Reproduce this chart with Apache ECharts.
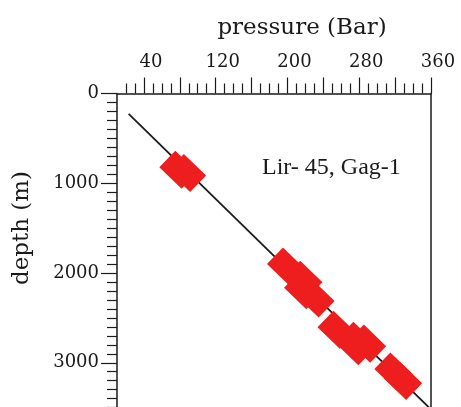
<!DOCTYPE html>
<html>
<head>
<meta charset="utf-8">
<script src="https://cdn.jsdelivr.net/npm/echarts@6/dist/echarts.min.js"></script>
<style>
    html, body { margin: 0; padding: 0; background: #fff; }
    #chart { width: 461px; height: 407px; }
</style>
</head>
<body>
<div id="chart"></div>
<script>
// pressure-depth plot, Lir-45 / Gag-1

// measured points (pressure in bar, depth in m)
var pressureBar = [78.5, 88, 198.5, 217.7, 217.5, 231.2, 254.8, 277, 275.5, 288.7, 318.2, 328.8];
var depthM = [850, 886, 1928, 2076, 2191, 2285, 2633, 2755, 2815, 2787, 3098, 3202];

// gradient line end points
var linePressure = [23, 360];
var lineDepth = [228, 3520];

// axis ticks
var xMajorTicks = [40, 80, 120, 160, 200, 240, 280, 320, 360];
var xMinorTicks = [20, 30, 50, 60, 70, 90, 100, 110, 130, 140, 150, 170, 180, 190, 210, 220, 230, 250, 260, 270, 290, 300, 310, 330, 340, 350];
var xLabels = [40, 120, 200, 280, 360];

var points = pressureBar.map(function (p, i) { return [p, depthM[i]]; });
var linePts = linePressure.map(function (p, i) { return [p, lineDepth[i]]; });

var serif = 'DejaVu Serif';
var ink = '#1a1a1a';

var chart = echarts.init(document.getElementById('chart'));
var option = {
    backgroundColor: '#fff',
    animation: false,
    grid: {
        left: 117,
        top: 93.5,
        width: 314,
        height: 359,
        containLabel: false,
        outerBoundsMode: 'none'
    },
    xAxis: [
        {
            type: 'value',
            position: 'top',
            min: 10,
            max: 360,
            axisLine: { show: true, lineStyle: { color: ink, width: 1.5 } },
            axisTick: { show: true, customValues: xMajorTicks, length: 16, lineStyle: { color: ink, width: 1.2 } },
            axisLabel: {
                customValues: xLabels,
                margin: 22,
                padding: [0, 0, 0, 14],
                fontFamily: serif,
                fontSize: 18,
                color: ink,
                formatter: function (v) { return String(v); }
            },
            splitLine: { show: false }
        },
        {
            type: 'value',
            position: 'top',
            min: 10,
            max: 360,
            axisLine: { show: false },
            axisTick: { show: true, customValues: xMinorTicks, length: 10, lineStyle: { color: ink, width: 1.2 } },
            axisLabel: { show: false },
            splitLine: { show: false }
        }
    ],
    yAxis: [
        {
            type: 'value',
            inverse: true,
            min: 0,
            max: 4000,
            interval: 1000,
            axisLine: { show: true, lineStyle: { color: ink, width: 1.5 } },
            axisTick: { show: true, length: 16, lineStyle: { color: ink, width: 1.2 } },
            minorTick: { show: true, splitNumber: 10, length: 10, lineStyle: { color: ink, width: 1.2 } },
            axisLabel: {
                margin: 18,
                fontFamily: serif,
                fontSize: 18,
                color: ink,
                formatter: function (v) { return String(v); }
            },
            splitLine: { show: false }
        },
        {
            type: 'value',
            position: 'right',
            inverse: true,
            min: 0,
            max: 4000,
            axisLine: { show: true, lineStyle: { color: ink, width: 1.5 } },
            axisTick: { show: false },
            axisLabel: { show: false },
            splitLine: { show: false }
        }
    ],
    series: [
        {
            type: 'line',
            data: linePts,
            showSymbol: false,
            lineStyle: { color: ink, width: 1.8 },
            z: 1
        },
        {
            type: 'scatter',
            data: points,
            symbol: 'rect',
            symbolSize: [31, 23],
            symbolRotate: -44,
            itemStyle: { color: '#ef1e1e', opacity: 1 },
            z: 2
        }
    ],
    graphic: [
        {
            type: 'text',
            x: 302,
            y: 28,
            style: { text: 'pressure (Bar)', font: '23px "DejaVu Serif"', fill: ink, textAlign: 'center', textVerticalAlign: 'middle' }
        },
        {
            type: 'text',
            x: 22,
            y: 228,
            rotation: Math.PI / 2,
            style: { text: 'depth (m)', font: '23px "DejaVu Serif"', fill: ink, textAlign: 'center', textVerticalAlign: 'middle' }
        },
        {
            type: 'text',
            x: 262,
            y: 168,
            style: { text: 'Lir- 45, Gag-1', font: '24px "Liberation Serif"', fill: ink, textAlign: 'left', textVerticalAlign: 'middle' }
        }
    ]
};
chart.setOption(option);
</script>
</body>
</html>
